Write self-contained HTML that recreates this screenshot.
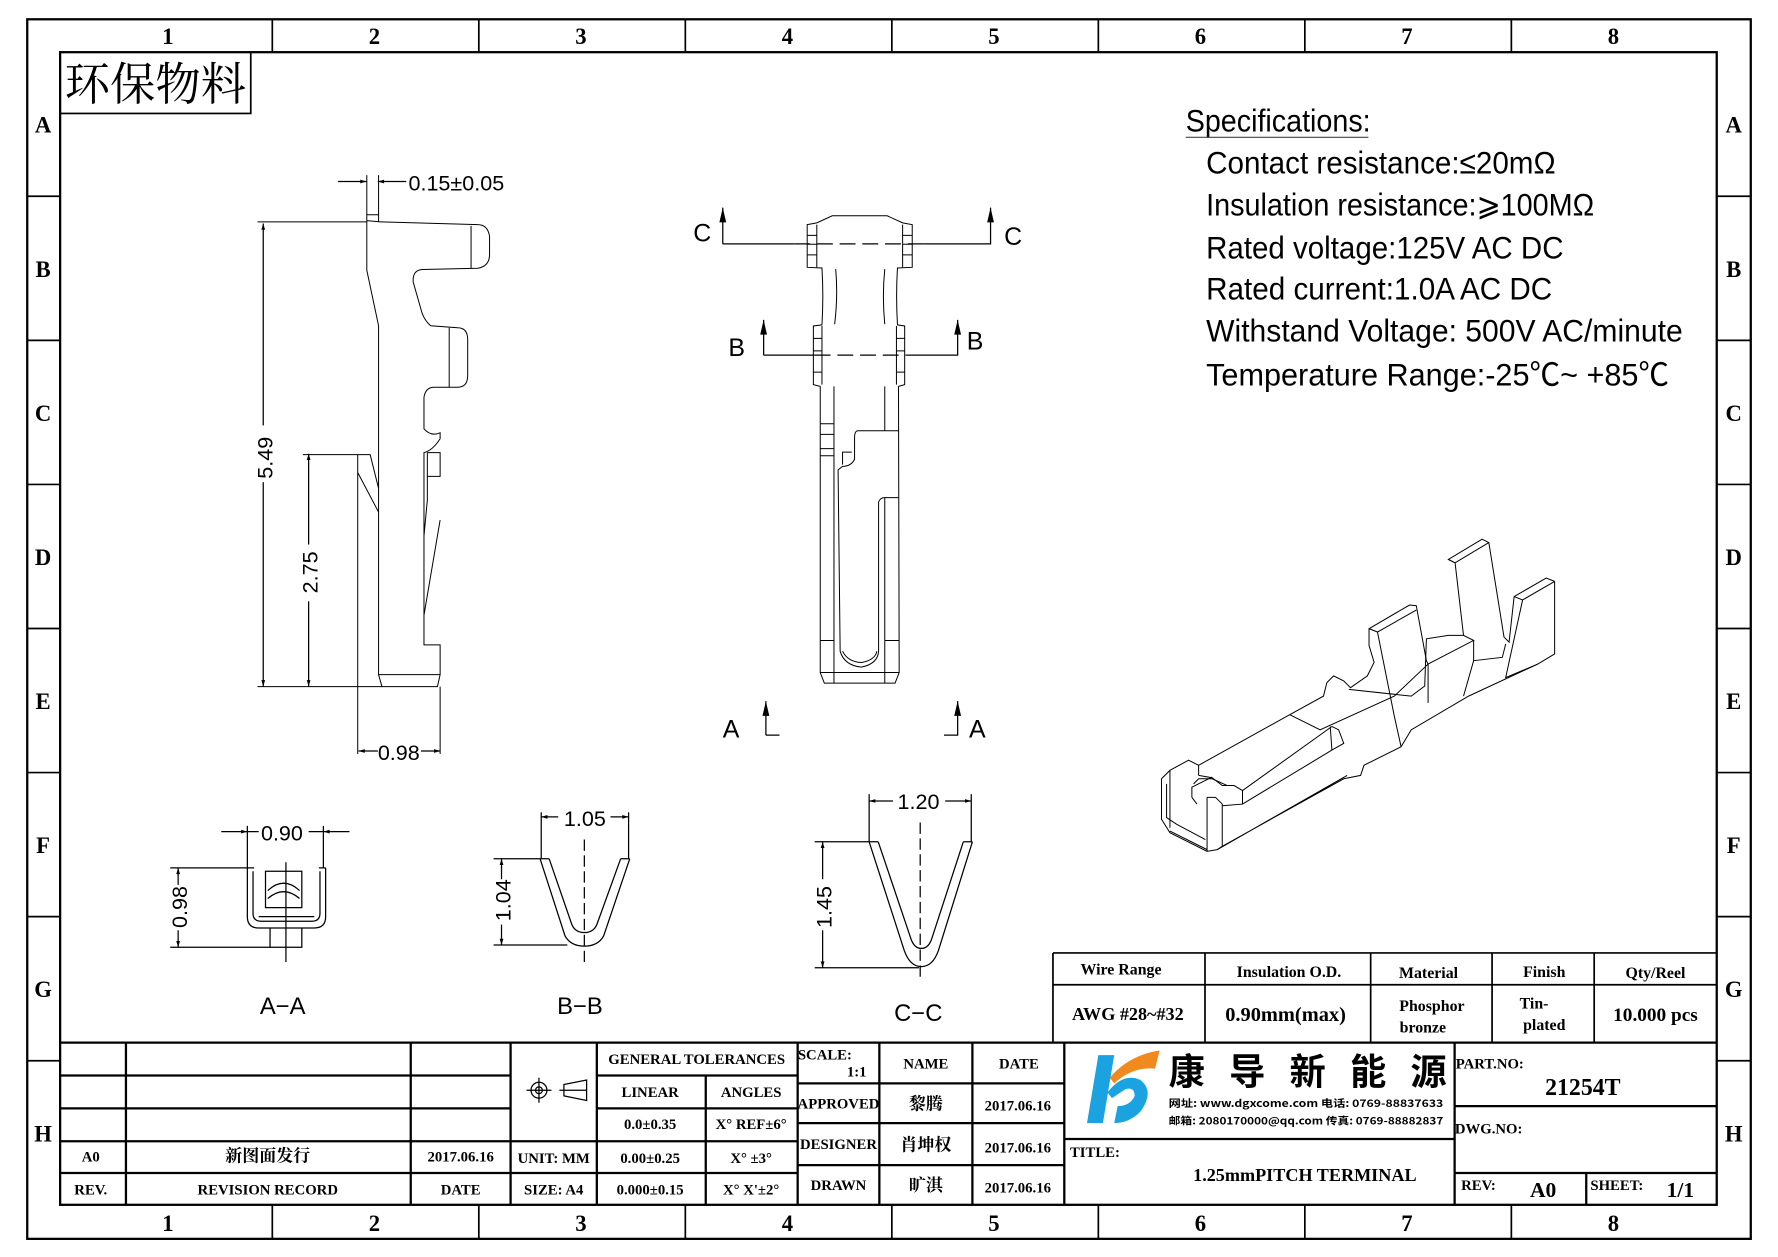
<!DOCTYPE html>
<html><head><meta charset="utf-8"><style>
html,body{margin:0;padding:0;background:#fff}
svg{display:block}
.l{fill:none;stroke:#000;stroke-width:1.1}
.s{fill:none;stroke:#000;stroke-width:1;vector-effect:non-scaling-stroke}
.t{font-family:"Liberation Serif","Noto Serif CJK SC",serif;font-weight:bold;fill:#000}
.d{font-family:"Liberation Sans","Noto Sans CJK SC",sans-serif;fill:#000}
</style></head><body>
<svg width="1778" height="1257" viewBox="0 0 1567 1108" preserveAspectRatio="none" xmlns="http://www.w3.org/2000/svg">
<defs><marker id="ar" viewBox="0 0 10 10" refX="10" refY="5" markerWidth="8" markerHeight="5" orient="auto-start-reverse"><path d="M0,2 L10,5 L0,8z" fill="#000"/></marker></defs>
<rect x="24" y="17" width="1519" height="1075" fill="none" stroke="#000" stroke-width="2"/>
<rect x="53" y="46" width="1460" height="1016" fill="none" stroke="#000" stroke-width="2"/>
<g stroke="#000" stroke-width="1.5">
<path d="M240,17V46M422,17V46M604,17V46M786,17V46M968,17V46M1150,17V46M1332,17V46"/>
<path d="M240,1062V1092M422,1062V1092M604,1062V1092M786,1062V1092M968,1062V1092M1150,1062V1092M1332,1062V1092"/>
<path d="M24,173H53M24,300H53M24,427H53M24,554H53M24,681H53M24,808H53M24,935H53"/>
<path d="M1513,173H1543M1513,300H1543M1513,427H1543M1513,554H1543M1513,681H1543M1513,808H1543M1513,935H1543"/>
</g>
<g class="t" font-size="20" text-anchor="middle">
<text x="148" y="39">1</text><text x="330" y="39">2</text><text x="512" y="39">3</text><text x="694" y="39">4</text><text x="876" y="39">5</text><text x="1058" y="39">6</text><text x="1240" y="39">7</text><text x="1422" y="39">8</text>
<text x="148" y="1085">1</text><text x="330" y="1085">2</text><text x="512" y="1085">3</text><text x="694" y="1085">4</text><text x="876" y="1085">5</text><text x="1058" y="1085">6</text><text x="1240" y="1085">7</text><text x="1422" y="1085">8</text>
<text x="38" y="117">A</text><text x="38" y="244">B</text><text x="38" y="371">C</text><text x="38" y="498">D</text><text x="38" y="625">E</text><text x="38" y="752">F</text><text x="38" y="879">G</text><text x="38" y="1006">H</text>
<text x="1528" y="117">A</text><text x="1528" y="244">B</text><text x="1528" y="371">C</text><text x="1528" y="498">D</text><text x="1528" y="625">E</text><text x="1528" y="752">F</text><text x="1528" y="879">G</text><text x="1528" y="1006">H</text>
</g>
<rect x="53" y="46" width="168" height="54" fill="none" stroke="#000" stroke-width="1.5"/>
<text x="57" y="88" font-family="'Noto Serif CJK SC',serif" font-size="40" textLength="160">环保物料</text>
<g class="d" font-size="28" fill="#444">
<text x="1045" y="116" textLength="163" lengthAdjust="spacingAndGlyphs">Specifications:</text>
<line x1="1045" y1="121" x2="1206" y2="121" stroke="#444" stroke-width="1"/>
<text x="1063" y="153" textLength="308" lengthAdjust="spacingAndGlyphs">Contact  resistance:≤20mΩ</text>
<text x="1063" y="190" textLength="342" lengthAdjust="spacingAndGlyphs">Insulation  resistance:⩾100MΩ</text>
<text x="1063" y="228" textLength="315" lengthAdjust="spacingAndGlyphs">Rated  voltage:125V  AC  DC</text>
<text x="1063" y="264" textLength="305" lengthAdjust="spacingAndGlyphs">Rated  current:1.0A  AC  DC</text>
<text x="1063" y="301" textLength="420" lengthAdjust="spacingAndGlyphs">Withstand  Voltage: 500V  AC/minute</text>
<text x="1063" y="340" textLength="408" lengthAdjust="spacingAndGlyphs">Temperature  Range:-25℃~  +85℃</text>
</g>
<g transform="translate(201.75,140.35) scale(0.2964,0.3495)">
<path class="s" d="M410,155 L410,280 L445,420 L445,1300 L455,1330 L620,1330 L628,1300 L628,1225 L580,1225 L580,740 Q605,735 628,705 L628,690 Q600,700 580,680 L580,600 Q585,575 610,575 L680,575 Q710,575 710,545 L710,455 Q710,425 680,425 L600,420 Q585,410 575,390 L548,310 Q545,280 575,278 L740,275 Q775,270 775,240 L775,195 Q770,165 740,165 L450,158 L410,155"/>
<path class="s" d="M410,155 L410,140 L445,140 L445,158 M720,168 L720,275 M655,425 L655,575 M445,1300 L628,1300 M590,740 L628,740 L628,800 L590,800 M590,740 L590,860 L580,950 M628,910 L580,1150"/>
<path class="s" d="M383,745 L420,745 L445,830 M383,790 L445,890 M383,745 L383,1500 M628,1330 L628,1500 M410,140 L410,40 M445,140 L445,40"/>
<path class="s" d="M85,158 L410,158 M85,1330 L455,1330 M220,745 L383,745"/>
</g>
<g class="l">
<line x1="232" y1="197" x2="232" y2="605" marker-start="url(#ar)" marker-end="url(#ar)"/>
<line x1="272" y1="400" x2="272" y2="605" marker-start="url(#ar)" marker-end="url(#ar)"/>
<line x1="316" y1="662" x2="388" y2="662" marker-start="url(#ar)" marker-end="url(#ar)"/>
<line x1="298" y1="160" x2="323" y2="160" marker-end="url(#ar)"/>
<line x1="358" y1="160" x2="333" y2="160" marker-end="url(#ar)"/>
</g>
<rect x="222" y="375" width="20" height="50" fill="#fff"/><rect x="262" y="480" width="20" height="50" fill="#fff"/><rect x="333" y="652" width="38" height="20" fill="#fff"/>
<g class="d" font-size="19" fill="#333">
<text x="360" y="168">0.15±0.05</text>
<text x="333" y="670">0.98</text>
<text transform="translate(240,422) rotate(-90)">5.49</text>
<text transform="translate(280,523) rotate(-90)">2.75</text>
</g>
<g transform="translate(614,166.7) scale(0.3025,0.3133)">
<path class="s" d="M322,100 L350,95 L395,75 L555,75 L600,95 L628,100 L628,220 L585,222 Q580,300 585,382 L606,385 L606,550 L588,555 L590,1360 L578,1390 L372,1390 L360,1360 L360,555 L340,550 L340,385 L365,382 Q370,300 365,222 L322,220 Z"/>
<path class="s" d="M350,100 V220 M600,100 V220 M322,130 H350 M322,155 H350 M322,185 H350 M600,130 H628 M600,155 H628 M600,185 H628"/>
<path class="s" d="M405,225 Q412,300 402,380 M548,225 Q540,300 548,380 M365,385 V550 M582,385 V550 M340,420 H365 M340,455 H365 M340,515 H365 M582,420 H606 M582,455 H606 M582,515 H606"/>
<path class="s" d="M400,555 V1390 M548,555 V680 M360,660 H400 M360,690 H400 M360,730 H400 M360,750 H400 M360,1270 H400 M548,1270 H590 M360,1360 H590 M548,1270 V1390 M588,680 H470 Q460,680 460,700 V760 Q450,780 425,780 L412,790 L418,1300 Q430,1340 480,1345 Q528,1335 530,1300 L530,880 Q535,868 548,868 H588 M425,775 V740 H452 M425,1300 Q440,1330 480,1332 Q520,1325 525,1300 M548,868 V1270"/>
</g>
<g class="l">
<path d="M637,215 V183 M637,215 H700 M814,215 H873 V183"/>
<path d="M700,215 H814" stroke-dasharray="14,6"/>
<path d="M673,313 V282 M673,313 H718 M799,313 H844 V282"/>
<path d="M718,313 H799" stroke-dasharray="14,6"/>
<path d="M675,648 V618 M675,648 H687 M832,648 H844 V618"/>
</g>
<g fill="#000"><path d="M634,196 L637,183 L640,196z"/><path d="M870,196 L873,183 L876,196z"/><path d="M670,295 L673,282 L676,295z"/><path d="M841,295 L844,282 L847,295z"/><path d="M672,631 L675,618 L678,631z"/><path d="M841,631 L844,618 L847,631z"/></g>
<g class="d" font-size="22" fill="#333">
<text x="611" y="213">C</text><text x="885" y="216">C</text><text x="642" y="314">B</text><text x="852" y="308">B</text><text x="637" y="650">A</text><text x="854" y="650">A</text>
</g>
<g class="l">
<path d="M218,765 V808 Q218,818 228,818 H277 Q287,818 287,808 V765 M223,768 V805 Q223,812 230,812 H275 Q282,812 282,805 V768 M218,765 H224 M281,765 H287 M228,808 H277 M238,818 V835 H266 V818 M234,768 H266 V800 H234 Z M236,785 Q250,772 264,785 M236,792 Q250,780 264,792 M252,760 V848"/>
<line x1="218" y1="728" x2="218" y2="765"/><line x1="285" y1="728" x2="285" y2="765"/>
<line x1="195" y1="733" x2="218" y2="733" marker-end="url(#ar)"/><line x1="308" y1="733" x2="285" y2="733" marker-end="url(#ar)"/>
<line x1="218" y1="733" x2="285" y2="733"/>
<line x1="150" y1="765" x2="218" y2="765"/><line x1="150" y1="835" x2="238" y2="835"/>
<line x1="157" y1="765" x2="157" y2="835" marker-start="url(#ar)" marker-end="url(#ar)"/>
</g>
<g class="l">
<path d="M476,757 L498,825 Q503,834 515,834 Q527,834 532,825 L555,757 M484,757 L504,815 Q507,822 515,822 Q523,822 526,815 L547,757 M476,757 H484 M547,757 H555"/>
<path d="M515,740 V850" stroke-dasharray="10,4"/>
<line x1="477" y1="716" x2="477" y2="757"/><line x1="554" y1="716" x2="554" y2="757"/>
<line x1="515" y1="720" x2="477" y2="720" marker-end="url(#ar)"/><line x1="515" y1="720" x2="554" y2="720" marker-end="url(#ar)"/>
<line x1="435" y1="757" x2="476" y2="757"/><line x1="435" y1="833" x2="500" y2="833"/>
<line x1="442" y1="757" x2="442" y2="833" marker-start="url(#ar)" marker-end="url(#ar)"/>
</g>
<g class="l">
<path d="M766,742 L797,838 Q802,852 812,852 Q822,852 827,838 L857,742 M774,742 L803,828 Q806,836 812,836 Q818,836 821,828 L849,742 M766,742 H774 M849,742 H857"/>
<path d="M811,725 V865" stroke-dasharray="10,4"/>
<line x1="766" y1="700" x2="766" y2="742"/><line x1="856" y1="700" x2="856" y2="742"/>
<line x1="811" y1="706" x2="766" y2="706" marker-end="url(#ar)"/><line x1="811" y1="706" x2="856" y2="706" marker-end="url(#ar)"/>
<line x1="718" y1="742" x2="766" y2="742"/><line x1="718" y1="853" x2="810" y2="853"/>
<line x1="725" y1="742" x2="725" y2="853" marker-start="url(#ar)" marker-end="url(#ar)"/>
</g>
<rect x="228" y="724" width="44" height="20" fill="#fff"/><rect x="492" y="711" width="46" height="20" fill="#fff"/><rect x="787" y="697" width="46" height="20" fill="#fff"/>
<rect x="148" y="780" width="20" height="40" fill="#fff"/><rect x="433" y="775" width="20" height="40" fill="#fff"/><rect x="716" y="775" width="20" height="45" fill="#fff"/>
<g class="d" font-size="19" fill="#333">
<text x="230" y="741">0.90</text><text x="497" y="728">1.05</text><text x="791" y="713">1.20</text>
<text transform="translate(165,818) rotate(-90)">0.98</text>
<text transform="translate(450,812) rotate(-90)">1.04</text>
<text transform="translate(733,818) rotate(-90)">1.45</text>
<text x="229" y="894" font-size="21">A−A</text><text x="491" y="894" font-size="21">B−B</text><text x="788" y="900" font-size="21">C−C</text>
</g>
<g transform="translate(1008.8,464.9) scale(0.2974,0.2974)">
<path class="s" d="M50,745 L50,865 L75,905 L185,960 L215,955 L230,945 L230,820 L210,800 L185,800 M50,745 L75,720 L130,690 L160,705 L160,735 M75,720 L75,890 M65,760 L65,860 L95,880 L180,925 M185,800 L185,960 M75,900 L185,955"/>
<path class="s" d="M160,705 L430,555 M160,735 L200,742 L230,765 L265,765 L290,780 L290,820 L230,825 M290,780 L555,590 M290,820 L555,660 M230,945 L590,745 L640,735 L650,705 L760,650 L790,600 L960,500 L1165,405 L1215,375 L1215,160 M215,955 L600,735"/>
<path class="s" d="M145,760 L160,745 L200,745 L245,765 M140,800 L155,820 M200,740 L140,770 L140,800 M430,555 L530,500 L540,460 L560,440 L590,455 L610,475 L660,440 L680,400 L665,350 L665,300 L785,230 L805,232 L835,395 L840,405 L975,335 L945,320 L920,105 L900,95 L1000,35 L1020,45 L1065,325 L1080,340 L1095,205 L1190,150 L1215,160"/>
<path class="s" d="M665,300 L690,310 L805,245 M690,310 L740,560 M900,95 L920,105 L1020,45 M1095,205 L1120,215 L1215,160 M1120,215 L1070,445 L1165,405 M840,405 L840,520 M975,335 L975,395 L945,500 M430,555 L520,600 L740,500 L840,405 M555,590 L575,600 L590,640 L555,660 L550,590 M605,480 L790,500 L830,470 L835,330 L900,320 L945,320 M975,395 L1060,385 L1070,345 M740,560 L760,650"/>
</g>
<g stroke="#000" stroke-width="1.5" fill="none">
<path d="M928,840 H1513 M928,868 H1513 M928,919 H1513 M928,840 V919 M1062,840 V919 M1208,840 V919 M1315,840 V919 M1405,840 V919"/>
</g>
<g class="t" font-size="14" text-anchor="middle">
<text x="988" y="859">Wire Range</text><text x="1136" y="861">Insulation O.D.</text><text x="1259" y="862">Material</text><text x="1361" y="861">Finish</text><text x="1459" y="862">Qty/Reel</text>
<text x="994" y="899" font-size="16">AWG #28~#32</text><text x="1133" y="900" font-size="18">0.90mm(max)</text>
<text x="1262" y="891">Phosphor</text><text x="1254" y="910">bronze</text><text x="1352" y="889">Tin-</text><text x="1361" y="908">plated</text>
<text x="1459" y="900" font-size="17">10.000 pcs</text>
</g>
<g stroke="#000" stroke-width="2" fill="none">
<path d="M53,919 H1513 M53,948 H450 M53,977 H450 M53,1006 H526 M53,1034 H526 M111,919 V1062 M362,919 V1062 M450,919 V1062 M526,919 V1062"/>
<path d="M526,948 H703 M526,977 H703 M526,1006 H703 M526,1034 H703 M622,948 V1062 M703,919 V1062"/>
<path d="M703,955 H938 M703,990 H938 M703,1027 H938 M775,919 V1062 M857,919 V1062 M938,919 V1062"/>
<path d="M938,1004 H1282 M1282,919 V1062 M1282,975 H1513 M1282,1034 H1513 M1398,1034 V1062"/>
</g>
<g class="t" font-size="13" text-anchor="middle" font-weight="normal">
<text x="614" y="938">GENERAL TOLERANCES</text>
<text x="573" y="967">LINEAR</text><text x="662" y="967">ANGLES</text>
<text x="573" y="995">0.0±0.35</text><text x="662" y="995">X° REF±6°</text>
<text x="573" y="1025">0.00±0.25</text><text x="662" y="1025">X° ±3°</text>
<text x="573" y="1053">0.000±0.15</text><text x="662" y="1053">X° X'±2°</text>
<text x="488" y="1025">UNIT: MM</text><text x="488" y="1053">SIZE: A4</text>
<text x="80" y="1024">A0</text><text x="236" y="1024" font-size="15">新图面发行</text><text x="406" y="1024">2017.06.16</text>
<text x="80" y="1053">REV.</text><text x="236" y="1053">REVISION RECORD</text><text x="406" y="1053">DATE</text>
<text x="727" y="934">SCALE:</text><text x="755" y="949">1:1</text>
<text x="816" y="942">NAME</text><text x="898" y="942">DATE</text>
<text x="739" y="977">APPROVED</text><text x="816" y="978" font-size="15">黎腾</text><text x="897" y="979">2017.06.16</text>
<text x="739" y="1013">DESIGNER</text><text x="816" y="1014" font-size="15">肖坤权</text><text x="897" y="1016">2017.06.16</text>
<text x="739" y="1049">DRAWN</text><text x="816" y="1050" font-size="15">旷淇</text><text x="897" y="1051">2017.06.16</text>
<text x="965" y="1020">TITLE:</text>
<text x="1150" y="1041" font-size="16">1.25mmPITCH TERMINAL</text>
<text x="1313" y="942">PART.NO:</text>
<text x="1395" y="965" font-size="21">21254T</text>
<text x="1312" y="999">DWG.NO:</text>
<text x="1303" y="1049">REV:</text><text x="1360" y="1055" font-size="19">A0</text>
<text x="1425" y="1049">SHEET:</text><text x="1481" y="1055" font-size="19">1/1</text>
</g>
<g class="l" stroke-width="1.6">
<circle cx="475" cy="961" r="7"/><circle cx="475" cy="961" r="3"/><path d="M464,961 H486 M475,950 V972"/>
<path d="M493,961 H517 M497,961 V966 L517,970 V952 L497,956 Z"/>
</g>
<path d="M968,930 L982,930 L972,990 L958,990 Z" fill="#1aa3e0"/>
<path d="M976,963 Q990,945 1005,952 Q1018,962 1005,980 Q995,990 982,990 L985,975 Q996,975 1000,966 Q1000,958 992,960 L980,968 Z" fill="#1aa3e0"/>
<path d="M978,950 Q995,930 1022,926 L1018,942 Q998,940 982,955 Z" fill="#f08a1e"/>
<g font-family="'Noto Sans CJK SC',sans-serif" font-weight="bold" font-size="32" fill="#000">
<text x="1030" y="956" textLength="245">康导新能源</text>
</g>
<g font-family="'Noto Sans CJK SC',sans-serif" font-weight="bold" font-size="9" fill="#000">
<text x="1030" y="976" textLength="242" lengthAdjust="spacingAndGlyphs">网址: www.dgxcome.com  电话: 0769-88837633</text>
<text x="1030" y="991" textLength="242" lengthAdjust="spacingAndGlyphs">邮箱: 2080170000@qq.com 传真: 0769-88882837</text>
</g>
</svg>
</body></html>
